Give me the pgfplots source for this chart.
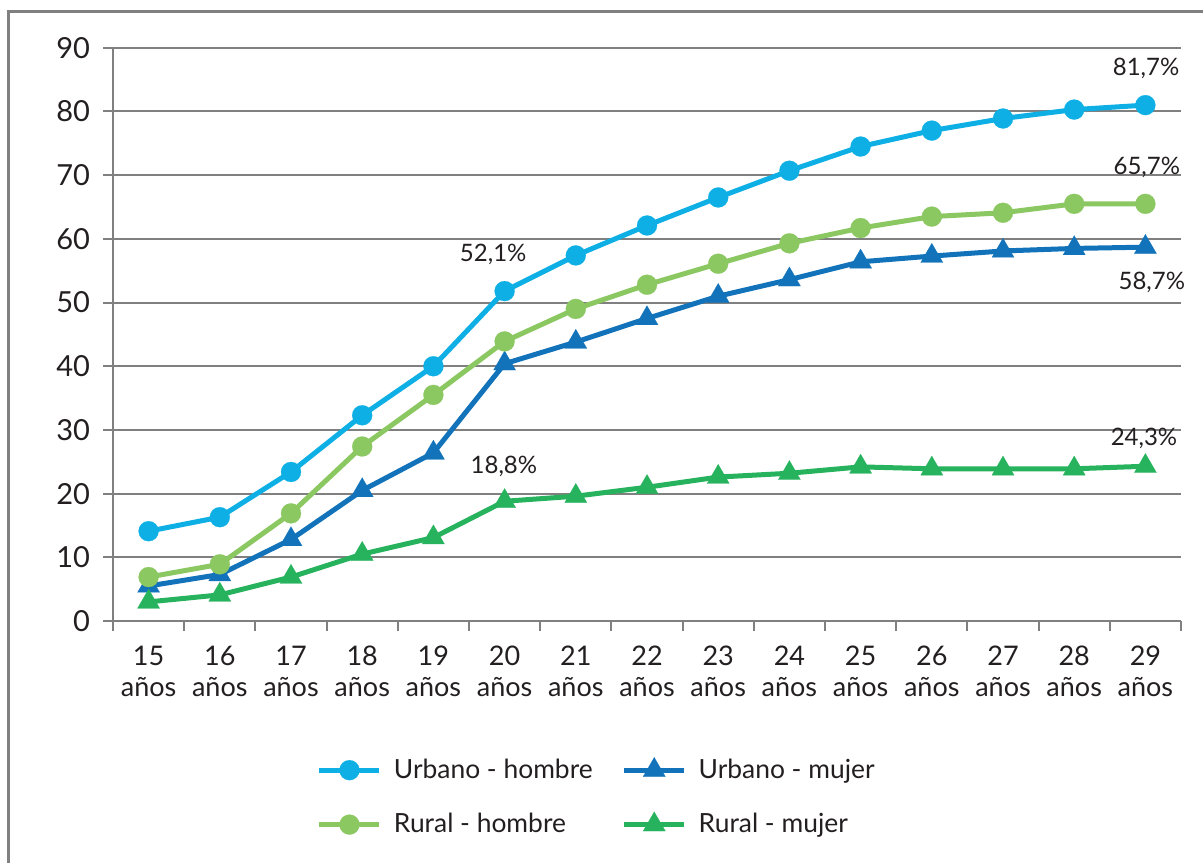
\documentclass[border=0pt]{standalone}
\usepackage{fontspec}
\setmainfont{Lato}
\usepackage{pgfplots}
\pgfplotsset{compat=1.18}
\definecolor{cUH}{HTML}{0DAFE5}
\definecolor{cUM}{HTML}{1273BA}
\definecolor{cRH}{HTML}{8CC862}
\definecolor{cRM}{HTML}{27B35E}
\definecolor{cGrid}{HTML}{808080}
\definecolor{cTxt}{HTML}{231F20}
\begin{document}
\begin{tikzpicture}
\useasboundingbox (0,0) rectangle (601.5pt,431pt);
\draw[color=cGrid, line width=1.5pt] (4pt,-20pt) -- (4pt,425pt) -- (640pt,425pt);
\begin{axis}[
  at={(56.5pt,120.5pt)}, anchor=south west,
  width=534pt, height=286.6pt, scale only axis,
  xmin=14.5, xmax=29.5, ymin=0, ymax=90,
  clip=false,
  axis lines*=left,
  axis line style={draw=cGrid, line width=1pt},
  ytick={0,10,...,90},
  ymajorgrids,
  grid style={draw=cGrid, line width=1pt},
  xtick={15,...,29},
  xticklabels={15\\años,16\\años,17\\años,18\\años,19\\años,20\\años,21\\años,22\\años,23\\años,24\\años,25\\años,26\\años,27\\años,28\\años,29\\años},
  minor xtick={14.5,15.5,...,29.5},
  tick align=outside,
  major tick length=5pt, minor tick length=5pt,
  tick style={draw=cGrid, line width=1pt},
  major x tick style={draw=none},
  /pgf/number format/assume math mode=true,
  xticklabel style={font=\fontsize{13.5}{15.5}\selectfont, text=cTxt, align=center, yshift=-4pt},
  yticklabel style={font=\fontsize{14.5}{16}\selectfont, text=cTxt, xshift=-3pt},
  legend style={at={(0.185,-0.226)}, anchor=north west, draw=none, fill=none,
    legend columns=2, font=\fontsize{13.2}{15}\selectfont, text=cTxt,
    /tikz/every odd column/.append style={column sep=4pt},
    /tikz/every even column/.append style={column sep=12.5pt},
    row sep=12pt, cells={anchor=west}},
  legend image code/.code={\draw[mark repeat=2,mark phase=2,#1] plot coordinates {(0pt,0pt) (15pt,0pt) (30pt,0pt)};},
]
\addplot[color=cUH, line width=2.5pt, mark=*, mark size=5pt, mark options={line width=0.1pt}] coordinates {
(15,14.1) (16,16.3) (17,23.4) (18,32.3) (19,40.0) (20,51.8) (21,57.4) (22,62.1) (23,66.5) (24,70.7) (25,74.5) (26,77.0) (27,78.9) (28,80.3) (29,81.0)};
\addlegendentry{Urbano - hombre}
\addplot[color=cUM, line width=2.5pt, mark=triangle*, mark size=6.4pt, mark options={line width=0.1pt}] coordinates {
(15,5.5) (16,7.3) (17,12.8) (18,20.5) (19,26.4) (20,40.4) (21,43.8) (22,47.5) (23,51.0) (24,53.6) (25,56.4) (26,57.3) (27,58.1) (28,58.5) (29,58.7)};
\addlegendentry{Urbano - mujer}
\addplot[color=cRH, line width=2.5pt, mark=*, mark size=5pt, mark options={line width=0.1pt}] coordinates {
(15,6.9) (16,8.9) (17,16.9) (18,27.4) (19,35.5) (20,43.9) (21,49.0) (22,52.8) (23,56.1) (24,59.3) (25,61.7) (26,63.5) (27,64.1) (28,65.5) (29,65.5)};
\addlegendentry{Rural - hombre}
\addplot[color=cRM, line width=2.5pt, mark=triangle*, mark size=6.4pt, mark options={line width=0.1pt}] coordinates {
(15,3.0) (16,4.1) (17,6.9) (18,10.5) (19,13.1) (20,18.8) (21,19.6) (22,21.0) (23,22.6) (24,23.2) (25,24.2) (26,23.9) (27,23.9) (28,23.9) (29,24.3)};
\addlegendentry{Rural - mujer}
\begin{scope}[every node/.style={font=\fontsize{12}{14}\selectfont, text=cTxt}]
\node at (axis cs:29.01,86.7) {81,7\%};
\node at (axis cs:29.02,71.2) {65,7\%};
\node at (axis cs:29.09,53.2) {58,7\%};
\node at (axis cs:28.98,28.7) {24,3\%};
\node at (axis cs:19.84,57.5) {52,1\%};
\node at (axis cs:19.99,24.3) {18,8\%};
\end{scope}
\end{axis}
\end{tikzpicture}
\end{document}
